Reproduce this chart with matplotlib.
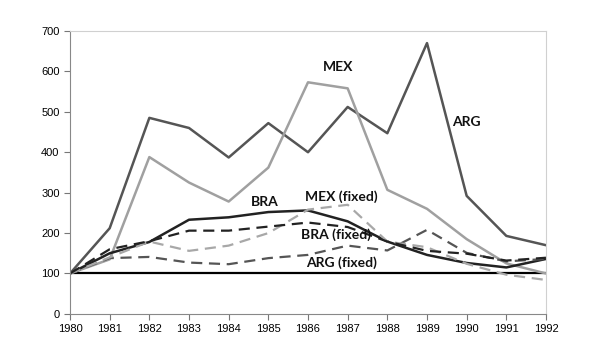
import matplotlib
matplotlib.use("Agg")
import matplotlib.pyplot as plt

# Años y series (índice 1980 = 100)
years = list(range(1980, 1993))
arg = [100, 212, 485, 460, 387, 472, 400, 512, 447, 670, 292, 193, 170]
mex = [100, 135, 388, 325, 278, 362, 573, 558, 307, 260, 185, 125, 100]
bra = [100, 150, 178, 233, 239, 252, 256, 229, 179, 146, 126, 115, 136]
bra_fixed = [100, 160, 180, 206, 206, 216, 226, 215, 179, 156, 149, 132, 139]
arg_fixed = [100, 138, 141, 127, 123, 138, 146, 169, 157, 208, 151, 130, 136]
mex_fixed = [100, 140, 179, 156, 169, 200, 258, 270, 179, 165, 124, 97, 84]
base = [100] * len(years)

fig = plt.figure(figsize=(6, 3.6), dpi=100)
ax = fig.add_axes([0.1167, 0.128, 0.7933, 0.786])

ax.plot(years, base, color="black", lw=1.6)
ax.plot(years, arg, color="#555555", lw=1.8)
ax.plot(years, mex, color="#a0a0a0", lw=1.8)
ax.plot(years, bra, color="#222222", lw=1.8)
ax.plot(years, arg_fixed, color="#555555", lw=1.6, ls=(0, (5, 3)))
ax.plot(years, mex_fixed, color="#a8a8a8", lw=1.6, ls=(0, (5, 3)))
ax.plot(years, bra_fixed, color="#222222", lw=1.6, ls=(0, (5, 3)))

# etiquetas de las series
lab = dict(fontsize=10, fontweight="bold", family="Lato", color="#111111", ha="center", va="center")
ax.text(1986.75, 610, "MEX", **lab)
ax.text(1990.0, 476, "ARG", **lab)
ax.text(1984.9, 277, "BRA", **lab)
ax.text(1986.85, 291, "MEX (fixed)", **lab)
ax.text(1986.7, 196, "BRA (fixed)", **lab)
ax.text(1986.85, 127, "ARG (fixed)", **lab)

ax.set_xlim(1980, 1992)
ax.set_ylim(0, 700)
ax.set_xticks(years)
ax.set_yticks(range(0, 701, 100))
ax.tick_params(labelsize=8, length=4, color="#777777", direction="out")
for t in ax.get_xticklabels() + ax.get_yticklabels():
    t.set_family("Liberation Sans")
ax.spines["left"].set_color("#888888")
ax.spines["bottom"].set_color("#888888")
ax.spines["top"].set_color("#d0d0d0")
ax.spines["right"].set_color("#d0d0d0")

fig.savefig("out.png", dpi=100)
